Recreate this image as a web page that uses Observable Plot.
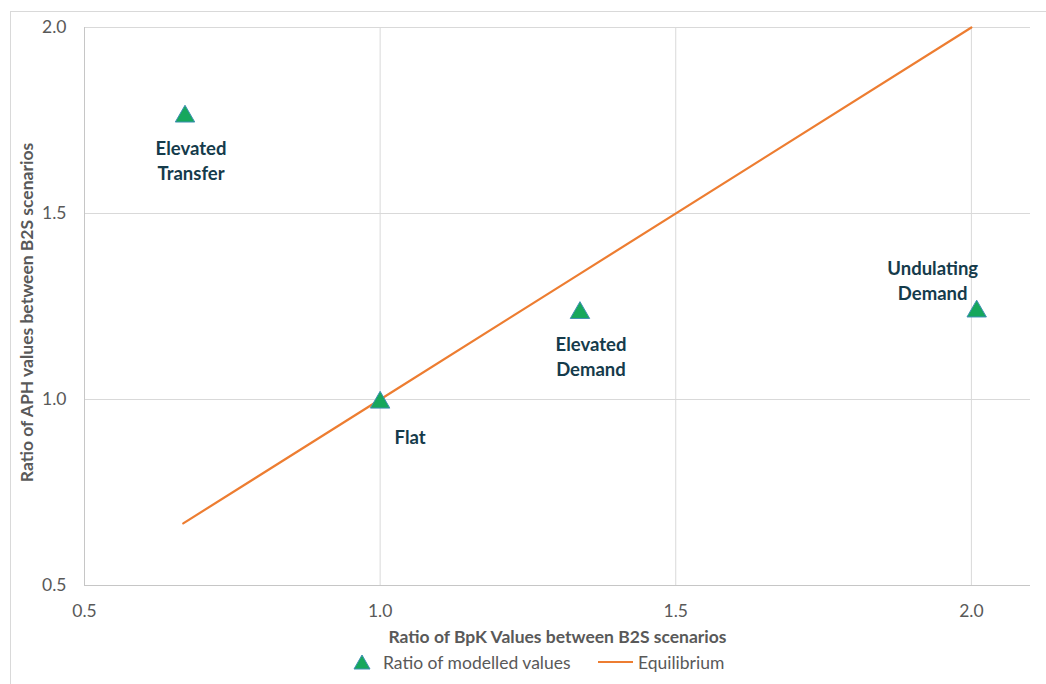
<!DOCTYPE html>
<html>
<head>
<meta charset="utf-8">
<script src="https://cdn.jsdelivr.net/npm/d3@7"></script>
<script src="https://cdn.jsdelivr.net/npm/@observablehq/plot@0.6"></script>
<style>
  html, body { margin: 0; padding: 0; background: #fff; }
  #wrap { position: relative; width: 1046px; height: 684px; overflow: hidden; font-family: Lato, "Open Sans", sans-serif; }
  #frame { position: absolute; left: 10px; top: 11px; width: 1200px; height: 800px;
           border-left: 1px solid #d9d9d9; border-top: 1px solid #d9d9d9; pointer-events: none; }
  #chart svg { display: block; }
  #legend { position: relative; height: 24px; font-size: 17.5px; color: #595959; }
  #legend .item { position: absolute; top: 1px; line-height: 24px; white-space: nowrap; }
  #legend svg { position: absolute; }
</style>
</head>
<body>
<div id="wrap">
  <div id="chart"></div>
  <div id="legend"></div>
  <div id="frame"></div>
</div>
<script>
// Scenario ratios: BpK (x) against APH (y)
const scenarios = ["Elevated Transfer", "Flat", "Elevated Demand", "Undulating Demand"];
const bpkRatio = [0.67, 1.0, 1.338, 2.009];
const aphRatio = [1.769, 1.0, 1.241, 1.245];

// Equilibrium line y = x
const equilibriumX = [0.667, 1.0, 1.333, 2.0];
const equilibriumY = [0.667, 1.0, 1.333, 2.0];

const xTicks = [0.5, 1.0, 1.5, 2.0];
const yTicks = [0.5, 1.0, 1.5, 2.0];

const xTitle = "Ratio of BpK Values between B2S scenarios";
const yTitle = "Ratio of APH values between B2S scenarios";
const seriesNames = ["Ratio of modelled values", "Equilibrium"];

const points = scenarios.map((name, i) => ({name, x: bpkRatio[i], y: aphRatio[i]}));
const line = equilibriumX.map((x, i) => ({x, y: equilibriumY[i]}));

const green = "#16a75c", greenEdge = "#3f8fb4", orange = "#ed7d31";
const labelColor = "#153b4b", gray = "#595959", grid = "#d9d9d9";

// Data-label placement per scenario
const labelOffsets = {
  "Elevated Transfer": {dx: 6, dy: 46},
  "Flat": {dx: 30, dy: 37},
  "Elevated Demand": {dx: 11, dy: 46},
  "Undulating Demand": {dx: -44, dy: -29}
};
const labelMarks = scenarios.map(name => Plot.text(points.filter(d => d.name === name), {
  x: "x", y: "y",
  text: d => d.name.replace(" ", "\n"),
  dx: labelOffsets[name].dx, dy: labelOffsets[name].dy,
  lineAnchor: "middle", lineHeight: 1.33,
  fontSize: 18.5, fontWeight: "bold", fill: labelColor
}));

const chart = Plot.plot({
  width: 1046,
  height: 650,
  marginLeft: 84,
  marginRight: 16,
  marginTop: 27,
  marginBottom: 65,
  style: {fontFamily: "Lato, 'Open Sans', sans-serif", fontSize: "17.5px", background: "transparent"},
  x: {domain: [0.5, 2.1]},
  y: {domain: [0.5, 2.0]},
  marks: [
    Plot.ruleX(xTicks.slice(1), {stroke: grid, strokeWidth: 1}),
    Plot.ruleY(yTicks.slice(1), {stroke: grid, strokeWidth: 1}),
    Plot.ruleX([0.5], {stroke: "#c6c6c6", strokeWidth: 1}),
    Plot.ruleY([0.5], {stroke: "#c6c6c6", strokeWidth: 1}),
    Plot.axisX({ticks: xTicks, tickFormat: d3.format(".1f"), tickSize: 0, tickPadding: 19, label: null, fill: gray, fontSize: 17.5}),
    Plot.axisY({ticks: yTicks, tickFormat: d3.format(".1f"), tickSize: 0, tickPadding: 18, label: null, fill: gray, fontSize: 17.5}),
    Plot.line(line, {x: "x", y: "y", stroke: orange, strokeWidth: 2.2}),
    Plot.dot(points, {x: "x", y: "y", symbol: "triangle", r: 7.2, dy: 3, fill: green, stroke: greenEdge, strokeWidth: 1}),
    ...labelMarks,
    Plot.text([xTitle], {frameAnchor: "bottom", text: d => d, dy: 57, fontSize: 17.5, fontWeight: "bold", fill: gray}),
    Plot.text([yTitle], {frameAnchor: "left", textAnchor: "middle", text: d => d, dx: -57, dy: 6, rotate: -90, fontSize: 17.5, fontWeight: "bold", fill: gray})
  ]
});
document.getElementById("chart").append(chart);

// Legend below the chart
const legend = document.getElementById("legend");
legend.innerHTML = `
  <svg width="18" height="16" style="left:353px;top:4px"><path d="M9,1 L17,15 L1,15 Z" fill="${green}" stroke="${greenEdge}" stroke-width="1"/></svg>
  <span class="item" style="left:383px">${seriesNames[0]}</span>
  <svg width="36" height="24" style="left:598px;top:0"><line x1="0" x2="35" y1="12" y2="12" stroke="${orange}" stroke-width="2.2"/></svg>
  <span class="item" style="left:638px">${seriesNames[1]}</span>`;
</script>
</body>
</html>
